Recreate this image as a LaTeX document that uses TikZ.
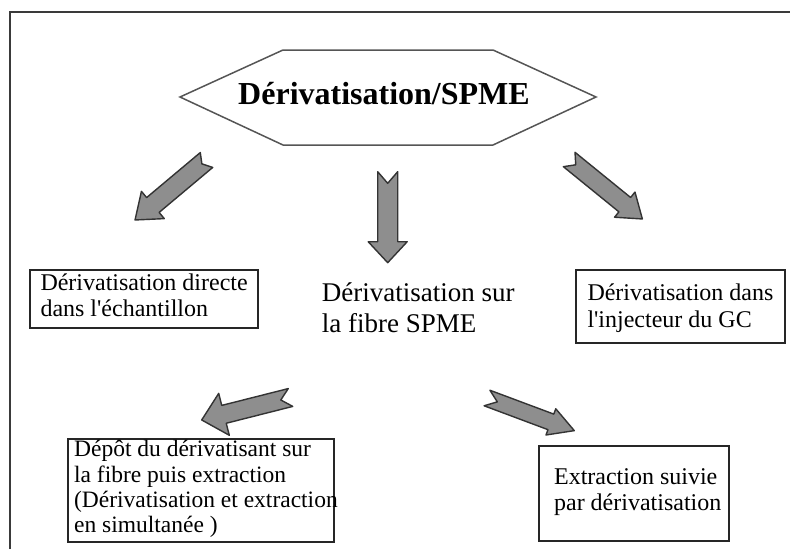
\documentclass[tikz,border=0pt]{standalone}
\usepackage{fontspec}
\setmainfont{Liberation Serif}
\usetikzlibrary{calc}
\definecolor{arrfill}{HTML}{8E8E8E}
\definecolor{arrline}{HTML}{333333}
\definecolor{framecol}{HTML}{3A3A3A}
\definecolor{hexcol}{HTML}{555555}
\newcommand\boxtxt[5]{\parbox[c][#2][t]{#1}{\noindent\hspace*{#3}\begin{tabular}[t]{@{}l@{}}\rule{0pt}{#4}#5\end{tabular}}}
\newcommand\apos{\textquotesingle}
\tikzset{
  arrlen/.store in=\arrL, arrsw/.store in=\arrS, arrhw/.store in=\arrH,
  arrhl/.store in=\arrHL, arrnotch/.store in=\arrN,
  arrlen=92, arrsw=9.5, arrhw=18, arrhl=23, arrnotch=9,
  arrowshape/.style={fill=arrfill, draw=arrline, line width=1.4pt, line join=round},
  blockarrow/.pic={\draw[arrowshape] (0,\arrS) -- ({\arrL-\arrHL},\arrS) -- ({\arrL-\arrHL},\arrH) -- (\arrL,0) -- ({\arrL-\arrHL},-\arrH) -- ({\arrL-\arrHL},-\arrS) -- (0,-\arrS) -- (\arrN,0) -- cycle;},
  txtbox/.style={draw=black!85, line width=1.6pt, inner sep=0pt, anchor=north west, font=\fontsize{24}{26.7}\selectfont},
  hexline/.style={draw=hexcol, line width=1.5pt, line join=miter},
  frameline/.style={draw=framecol, line width=2.5pt},
}
\begin{document}
\begin{tikzpicture}[x=1pt, y=-1pt]
\useasboundingbox (0,0) rectangle (790,549);
% frame
\draw[frameline] (10,549) -- (10,12) -- (790,12);
% hexagon
\draw[hexline] (180,97) -- (283,50) -- (493,50) -- (596,97) -- (493,145) -- (283,145) -- cycle;
\node[font=\bfseries\fontsize{32}{36}\selectfont, anchor=base, inner sep=0pt] (title) at (384,104) {Dérivatisation/SPME};
% boxes
\node[txtbox] (direct) at (29,269) {\boxtxt{228pt}{58pt}{10.7pt}{20.3pt}{Dérivatisation directe\\dans l\apos échantillon}};
\node[txtbox] (injecteur) at (575,269) {\boxtxt{209pt}{73pt}{11.7pt}{31pt}{Dérivatisation dans\\l\apos injecteur du GC}};
\node[txtbox, font=\fontsize{23.5}{25.2}\selectfont] (depot) at (67,438) {\boxtxt{266pt}{103pt}{6.3pt}{18pt}{Dépôt du dérivatisant sur\\la fibre puis extraction\\(Dérivatisation et extraction\\en simultanée )}};
\node[txtbox] (suivie) at (538,445) {\boxtxt{190pt}{95pt}{15.3pt}{38.3pt}{Extraction suivie\\par dérivatisation}};
\node[inner sep=0pt, anchor=north west, font=\fontsize{27}{31}\selectfont] (fibre) at (321.7,280) {\boxtxt{200pt}{60pt}{0pt}{21.7pt}{Dérivatisation sur\\la fibre SPME}};
% arrows
\coordinate (t1) at (206.5,160);
\coordinate (t2) at (387.7,171.7);
\coordinate (t3) at (569.2,159.5);
\coordinate (t4) at (290.5,397.5);
\coordinate (t5) at (487,398);
\pic[arrlen=93.3, arrsw=9.7, arrhw=17.8, arrhl=23.3, arrnotch=6, rotate=-140] at (t1) {blockarrow};
\pic[arrlen=91, arrsw=10, arrhw=19.5, arrhl=21, arrnotch=11.6, rotate=-90] at (t2) {blockarrow};
\pic[arrlen=94.3, arrsw=9.25, arrhw=16.2, arrhl=22.7, arrnotch=8.4, rotate=-39.1] at (t3) {blockarrow};
\pic[arrlen=91.6, arrsw=9.2, arrhw=21.6, arrhl=23, arrnotch=10, rotate=-165.8] at (t4) {blockarrow};
\pic[arrlen=93.2, arrsw=8.3, arrhw=14, arrhl=25, arrnotch=11, rotate=-20.5] at (t5) {blockarrow};
\end{tikzpicture}
\end{document}
